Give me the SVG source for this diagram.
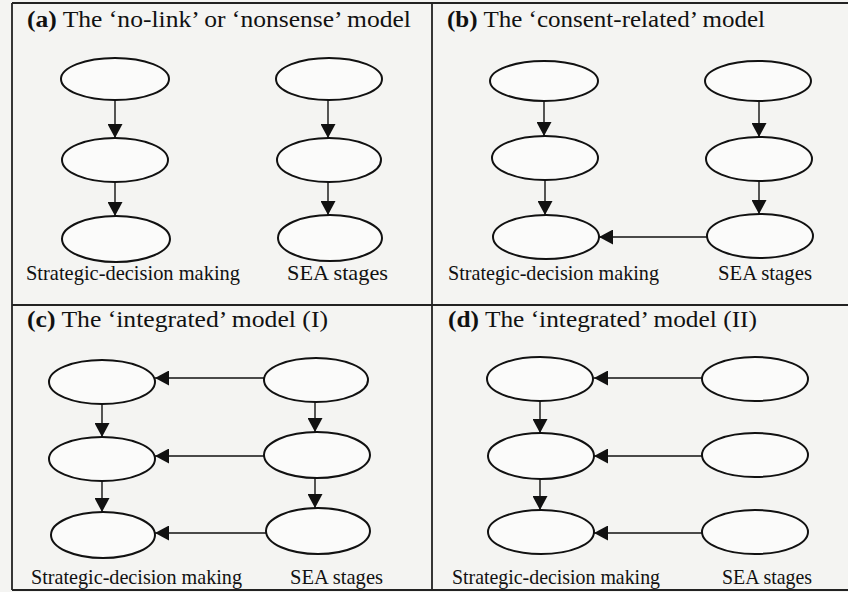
<svg xmlns="http://www.w3.org/2000/svg" width="848" height="592" viewBox="0 0 848 592">
<defs>
<style>
.bg{fill:#f4f4f2}
.frame{stroke:#222;stroke-width:1.8;fill:none}
.node{fill:#fbfbfa;stroke:#111;stroke-width:2}
.arr{stroke:#111;stroke-width:1.4;fill:none;marker-end:url(#ah)}
.title{font-family:"Liberation Serif","Times New Roman",serif;font-size:23px;fill:#111}
.title .b{font-weight:bold}
.lab{font-family:"Liberation Serif","Times New Roman",serif;font-size:21px;fill:#111}
</style>
<marker id="ah" markerUnits="userSpaceOnUse" markerWidth="15" markerHeight="15" refX="14" refY="7.5" orient="auto" viewBox="0 0 15 15">
<path d="M0,0 L14,7.5 L0,15 z" fill="#111"/>
</marker>
</defs>
<rect class="bg" x="0" y="0" width="848" height="592"/>
<g id="frame">
<line class="frame" x1="12" y1="3" x2="848" y2="3"/>
<line class="frame" x1="12" y1="3" x2="12" y2="590"/>
<line class="frame" x1="12" y1="590" x2="848" y2="590"/>
<line class="frame" x1="432" y1="3" x2="432" y2="590"/>
<line class="frame" x1="12" y1="305" x2="848" y2="305"/>
</g>
<g id="titles">
<text class="title" x="27" y="27" textLength="384" lengthAdjust="spacingAndGlyphs"><tspan class="b">(a)</tspan> The ‘no-link’ or ‘nonsense’ model</text>
<text class="title" x="447" y="27" textLength="318" lengthAdjust="spacingAndGlyphs"><tspan class="b">(b)</tspan> The ‘consent-related’ model</text>
<text class="title" x="27" y="327" textLength="301" lengthAdjust="spacingAndGlyphs"><tspan class="b">(c)</tspan> The ‘integrated’ model (I)</text>
<text class="title" x="448" y="327" textLength="309" lengthAdjust="spacingAndGlyphs"><tspan class="b">(d)</tspan> The ‘integrated’ model (II)</text>
</g>
<g id="labels">
<text class="lab" x="26" y="280" textLength="214" lengthAdjust="spacingAndGlyphs">Strategic-decision making</text>
<text class="lab" x="287" y="280" textLength="101" lengthAdjust="spacingAndGlyphs">SEA stages</text>
<text class="lab" x="448" y="280" textLength="211" lengthAdjust="spacingAndGlyphs">Strategic-decision making</text>
<text class="lab" x="718" y="280" textLength="94" lengthAdjust="spacingAndGlyphs">SEA stages</text>
<text class="lab" x="31" y="584" textLength="211" lengthAdjust="spacingAndGlyphs">Strategic-decision making</text>
<text class="lab" x="290" y="584" textLength="93" lengthAdjust="spacingAndGlyphs">SEA stages</text>
<text class="lab" x="452" y="584" textLength="208" lengthAdjust="spacingAndGlyphs">Strategic-decision making</text>
<text class="lab" x="722" y="584" textLength="90" lengthAdjust="spacingAndGlyphs">SEA stages</text>
</g>
<g id="panel-a">
<g id="a-sdm1"><ellipse class="node" cx="115" cy="79" rx="54" ry="21"/></g>
<g id="a-sdm2"><ellipse class="node" cx="115" cy="160" rx="53" ry="22"/></g>
<g id="a-sdm3"><ellipse class="node" cx="116" cy="239" rx="54" ry="23"/></g>
<g id="a-sea1"><ellipse class="node" cx="329" cy="79" rx="53" ry="21"/></g>
<g id="a-sea2"><ellipse class="node" cx="329" cy="160" rx="52" ry="22"/></g>
<g id="a-sea3"><ellipse class="node" cx="330" cy="238" rx="52" ry="23"/></g>
</g>
<g id="panel-b">
<g id="b-sdm1"><ellipse class="node" cx="544" cy="81" rx="54" ry="20"/></g>
<g id="b-sdm2"><ellipse class="node" cx="545" cy="158" rx="53" ry="22"/></g>
<g id="b-sdm3"><ellipse class="node" cx="546" cy="237" rx="53" ry="22"/></g>
<g id="b-sea1"><ellipse class="node" cx="758" cy="81" rx="53" ry="20"/></g>
<g id="b-sea2"><ellipse class="node" cx="759" cy="159" rx="53" ry="22"/></g>
<g id="b-sea3"><ellipse class="node" cx="760" cy="236" rx="53" ry="22"/></g>
</g>
<g id="panel-c">
<g id="c-sdm1"><ellipse class="node" cx="102" cy="382" rx="53" ry="22"/></g>
<g id="c-sdm2"><ellipse class="node" cx="102" cy="459" rx="53" ry="22"/></g>
<g id="c-sdm3"><ellipse class="node" cx="103" cy="535" rx="52" ry="23"/></g>
<g id="c-sea1"><ellipse class="node" cx="316" cy="380" rx="52" ry="22"/></g>
<g id="c-sea2"><ellipse class="node" cx="317" cy="455" rx="53" ry="23"/></g>
<g id="c-sea3"><ellipse class="node" cx="318" cy="531" rx="52" ry="23"/></g>
</g>
<g id="panel-d">
<g id="d-sdm1"><ellipse class="node" cx="540" cy="379" rx="53" ry="22"/></g>
<g id="d-sdm2"><ellipse class="node" cx="541" cy="456" rx="53" ry="23"/></g>
<g id="d-sdm3"><ellipse class="node" cx="541" cy="532" rx="53" ry="22"/></g>
<g id="d-sea1"><ellipse class="node" cx="755" cy="379" rx="53" ry="22"/></g>
<g id="d-sea2"><ellipse class="node" cx="755" cy="455" rx="53" ry="22"/></g>
<g id="d-sea3"><ellipse class="node" cx="755" cy="532" rx="53" ry="22"/></g>
</g>
<g id="connectors">
<line class="arr" x1="115" y1="100" x2="115" y2="138"/>
<line class="arr" x1="115" y1="182" x2="115" y2="216"/>
<line class="arr" x1="328" y1="100" x2="328" y2="138"/>
<line class="arr" x1="328" y1="182" x2="328" y2="215"/>
<line class="arr" x1="544" y1="101" x2="544" y2="136"/>
<line class="arr" x1="545" y1="180" x2="545" y2="215"/>
<line class="arr" x1="759" y1="101" x2="759" y2="137"/>
<line class="arr" x1="759" y1="181" x2="759" y2="214"/>
<line class="arr" x1="707" y1="237" x2="599" y2="237"/>
<line class="arr" x1="102" y1="404" x2="102" y2="437"/>
<line class="arr" x1="102" y1="481" x2="102" y2="512"/>
<line class="arr" x1="315" y1="402" x2="315" y2="432"/>
<line class="arr" x1="315" y1="478" x2="315" y2="508"/>
<line class="arr" x1="264" y1="378" x2="155" y2="378"/>
<line class="arr" x1="264" y1="456" x2="155" y2="456"/>
<line class="arr" x1="266" y1="533" x2="155" y2="533"/>
<line class="arr" x1="540" y1="401" x2="540" y2="433"/>
<line class="arr" x1="540" y1="479" x2="540" y2="510"/>
<line class="arr" x1="702" y1="378" x2="594" y2="378"/>
<line class="arr" x1="702" y1="456" x2="594" y2="456"/>
<line class="arr" x1="702" y1="533" x2="594" y2="533"/>
</g>
</svg>
